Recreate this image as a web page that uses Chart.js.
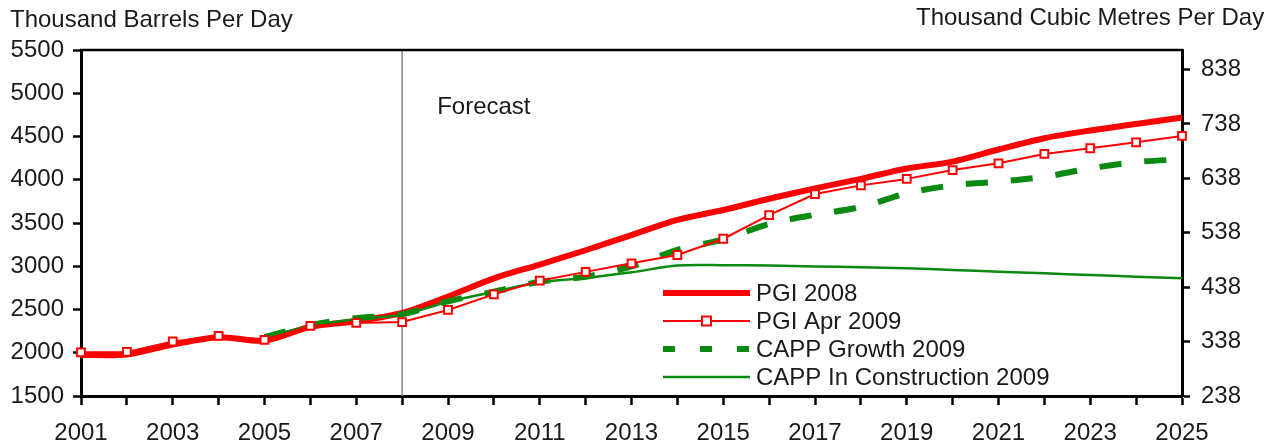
<!DOCTYPE html>
<html>
<head>
<meta charset="utf-8">
<script src="https://cdn.jsdelivr.net/npm/chart.js@4/dist/chart.umd.min.js"></script>
<style>
  html, body { margin: 0; padding: 0; background: #ffffff; }
  #wrap { width: 1270px; height: 446px; }
</style>
</head>
<body>
<div id="wrap"><canvas id="c" width="1270" height="446"></canvas></div>
<script>
// ---- Data ----
const years = ['2001','2002','2003','2004','2005','2006','2007','2008','2009','2010','2011','2012','2013',
               '2014','2015','2016','2017','2018','2019','2020','2021','2022','2023','2024','2025'];
const pgi2008 = [1975,1980,2095,2180,2140,2300,2365,2460,2650,2860,3020,3185,3360,
                 3535,3650,3780,3900,4010,4130,4210,4350,4480,4570,4645,4720];
const pgiApr2009 = [2005,2010,2130,2195,2150,2310,2345,2355,2495,2675,2833,2935,3034,
                    3130,3318,3592,3835,3935,4010,4112,4190,4298,4364,4433,4506];
const cappGrowth2009 = [null,null,null,null,2180,2320,2400,2445,2595,2705,2821,2879,3000,
                        3190,3310,3490,3595,3685,3843,3936,3978,4035,4132,4205,4236];
const cappConstruction2009 = [null,null,null,null,2180,2310,2390,2440,2590,2705,2815,2865,2930,
                              3008,3012,3008,2998,2988,2976,2957,2937,2918,2899,2880,2860];
const leftTicks = [1500,2000,2500,3000,3500,4000,4500,5000,5500];
const rightTicks = [238,338,438,538,638,738,838];
const barrelsPerCubicMetre = 6.2898;
const forecastYear = '2008';
const leftTitle = 'Thousand Barrels Per Day';
const rightTitle = 'Thousand Cubic Metres Per Day';
const forecastLabel = 'Forecast';

const FONT = "'Liberation Sans', Arial, sans-serif";
const FS = 24;
const RED = '#ff0000';
const GREEN = '#0b8a12';
const TEXT = '#1a1a1a';

const overlay = {
  id: 'overlay',
  beforeDatasetsDraw(chart) {
    const ctx = chart.ctx, a = chart.chartArea, x = chart.scales.x;
    const fx = x.getPixelForValue(years.indexOf(forecastYear));
    ctx.save();
    ctx.strokeStyle = '#8a8a8a';
    ctx.lineWidth = 1.5;
    ctx.beginPath(); ctx.moveTo(fx, a.top); ctx.lineTo(fx, a.bottom); ctx.stroke();
    ctx.fillStyle = TEXT;
    ctx.font = FS + 'px ' + FONT;
    ctx.textBaseline = 'middle';
    ctx.textAlign = 'left';
    ctx.fillText(forecastLabel, fx + 35, a.top + 57);
    ctx.restore();
  },
  afterDraw(chart) {
    const ctx = chart.ctx, a = chart.chartArea;
    ctx.save();
    // top frame line
    ctx.strokeStyle = '#000';
    ctx.lineWidth = 2.5;
    ctx.beginPath(); ctx.moveTo(a.left - 1, a.top); ctx.lineTo(a.right + 1, a.top); ctx.stroke();
    // titles
    ctx.fillStyle = TEXT;
    ctx.font = FS + 'px ' + FONT;
    ctx.textBaseline = 'alphabetic';
    ctx.textAlign = 'left';
    ctx.fillText(leftTitle, 10, 27);
    ctx.fillText(rightTitle, 916, 25);
    // legend
    const lx0 = 663, lx1 = 750, tx = 756, y0 = 293, dy = 28;
    chart.data.datasets.forEach((ds, i) => {
      const y = y0 + i * dy;
      ctx.save();
      ctx.strokeStyle = ds.borderColor;
      ctx.lineWidth = ds.borderWidth;
      ctx.setLineDash(ds.legendDash || []);
      ctx.beginPath(); ctx.moveTo(lx0, y); ctx.lineTo(lx1, y); ctx.stroke();
      ctx.setLineDash([]);
      if (ds.pointRadius > 0) {
        const r = ds.pointRadius - 1;
        const cx = (lx0 + lx1) / 2;
        ctx.fillStyle = ds.pointBackgroundColor;
        ctx.fillRect(cx - r, y - r, 2 * r, 2 * r);
        ctx.lineWidth = ds.pointBorderWidth;
        ctx.strokeStyle = ds.pointBorderColor;
        ctx.strokeRect(cx - r, y - r, 2 * r, 2 * r);
      }
      ctx.restore();
      ctx.fillStyle = TEXT;
      ctx.font = FS + 'px ' + FONT;
      ctx.textAlign = 'left';
      ctx.textBaseline = 'middle';
      ctx.fillText(ds.label, tx, y + 1);
    });
    ctx.restore();
  }
};

new Chart(document.getElementById('c'), {
  type: 'line',
  data: {
    labels: years,
    datasets: [
      { label: 'PGI 2008', data: pgi2008, borderColor: RED, backgroundColor: RED,
        borderWidth: 6, pointRadius: 0, tension: 0.3, order: 3 },
      { label: 'PGI Apr 2009', data: pgiApr2009, borderColor: RED, backgroundColor: RED,
        borderWidth: 2, pointStyle: 'rect', pointRadius: 5.5, pointBorderWidth: 2,
        pointBorderColor: RED, pointBackgroundColor: '#ffffff', tension: 0, order: 0 },
      { label: 'CAPP Growth 2009', data: cappGrowth2009, borderColor: GREEN, backgroundColor: GREEN,
        borderWidth: 6, borderDash: [22, 23], legendDash: [12, 25], pointRadius: 0, tension: 0.3, order: 1 },
      { label: 'CAPP In Construction 2009', data: cappConstruction2009, borderColor: GREEN, backgroundColor: GREEN,
        borderWidth: 2.5, pointRadius: 0, tension: 0.3, order: 2 }
    ]
  },
  options: {
    responsive: false,
    animation: false,
    devicePixelRatio: 1,
    layout: { padding: { top: 50, left: 0, right: 0, bottom: 0 } },
    plugins: { legend: { display: false }, tooltip: { enabled: false }, title: { display: false } },
    elements: { line: { borderCapStyle: 'butt', borderJoinStyle: 'round' } },
    scales: {
      x: {
        type: 'category',
        offset: false,
        afterFit(s) { s.height = 50; },
        border: { display: true, color: '#000', width: 3 },
        grid: { display: true, drawOnChartArea: false, drawTicks: true, tickLength: 9, tickWidth: 2.5, tickColor: '#000' },
        ticks: {
          autoSkip: false, maxRotation: 0, padding: 14, color: TEXT,
          font: { family: FONT, size: FS },
          callback(v, i) { return i % 2 === 0 ? years[i] : ''; }
        }
      },
      y: {
        position: 'left',
        min: 1500, max: 5500,
        afterFit(s) { s.width = 81; },
        afterBuildTicks(s) { s.ticks = leftTicks.map(v => ({ value: v })); },
        border: { display: true, color: '#000', width: 3 },
        grid: { display: true, drawOnChartArea: false, drawTicks: true, tickLength: 8, tickWidth: 2.5, tickColor: '#000' },
        ticks: { padding: 9, color: TEXT, font: { family: FONT, size: FS }, callback(v) { return String(v); } }
      },
      y1: {
        position: 'right',
        min: 238, max: 238 + 4000 / barrelsPerCubicMetre,
        afterFit(s) { s.width = 88; },
        afterBuildTicks(s) { s.ticks = rightTicks.map(v => ({ value: v })); },
        border: { display: true, color: '#000', width: 3 },
        grid: { display: true, drawOnChartArea: false, drawTicks: true, tickLength: 8, tickWidth: 2.5, tickColor: '#000' },
        ticks: { padding: 11, color: TEXT, font: { family: FONT, size: FS }, callback(v) { return String(v); } }
      }
    }
  },
  plugins: [overlay]
});
</script>
</body>
</html>
